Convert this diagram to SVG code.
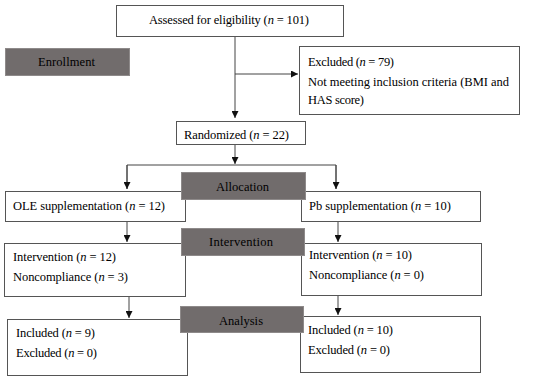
<svg xmlns="http://www.w3.org/2000/svg" width="550" height="380" viewBox="0 0 550 380">
<defs>
<marker id="arr" markerWidth="7" markerHeight="7" refX="7" refY="3.5" orient="auto" markerUnits="userSpaceOnUse">
<path d="M0,0 L7,3.5 L0,7 z" fill="#111"/>
</marker>
<style>
text{font-family:"Liberation Serif","DejaVu Serif",serif;font-size:12.5px;fill:#000}
.i{font-style:italic}
.box{fill:#fff;stroke:#555;stroke-width:1}
.lab{fill:#716c6c;stroke:#8e8a8a;stroke-width:1}
.ln{fill:none;stroke:#444;stroke-width:1}
.ar{marker-end:url(#arr)}
</style>
</defs>
<rect width="550" height="380" fill="#fff"/>
<g id="connectors">
<line class="ln ar" x1="235" y1="36" x2="235" y2="118"/>
<line class="ln ar" x1="235" y1="74" x2="298" y2="74"/>
<line class="ln ar" x1="235" y1="144" x2="235" y2="164"/>
<polyline class="ln" points="127,189 127,165 336,165 336,189"/>
<line class="ln ar" x1="127" y1="165" x2="127" y2="189"/>
<line class="ln ar" x1="336" y1="165" x2="336" y2="189"/>
<line class="ln ar" x1="127" y1="221" x2="127" y2="242"/>
<line class="ln ar" x1="338" y1="221" x2="338" y2="242"/>
<line class="ln ar" x1="129" y1="296" x2="129" y2="318"/>
<line class="ln ar" x1="338" y1="295" x2="338" y2="315"/>
</g>
<g id="assessed">
<rect class="box" x="116.5" y="5.5" width="227" height="31"/>
<text x="149" y="24" textLength="160">Assessed for eligibility (<tspan class="i">n</tspan> = 101)</text>
</g>
<g id="excluded">
<rect class="box" x="299.5" y="46.5" width="220" height="68"/>
<text x="308" y="66" textLength="86">Excluded (<tspan class="i">n</tspan> = 79)</text>
<text x="308" y="85.5" textLength="201">Not meeting inclusion criteria (BMI and</text>
<text x="308" y="104" textLength="56">HAS score)</text>
</g>
<g id="randomized">
<rect class="box" x="176.5" y="121.5" width="129" height="23"/>
<text x="184" y="139" textLength="105">Randomized (<tspan class="i">n</tspan> = 22)</text>
</g>
<g id="ole">
<rect class="box" x="5.5" y="191.5" width="180" height="30"/>
<text x="13" y="210" textLength="152">OLE supplementation (<tspan class="i">n</tspan> = 12)</text>
</g>
<g id="pb">
<rect class="box" x="301.5" y="191.5" width="179" height="30"/>
<text x="309" y="210" textLength="142">Pb supplementation (<tspan class="i">n</tspan> = 10)</text>
</g>
<g id="int-left">
<rect class="box" x="4.5" y="243.5" width="181" height="53"/>
<text x="13" y="261" textLength="103">Intervention (<tspan class="i">n</tspan> = 12)</text>
<text x="13" y="281" textLength="115">Noncompliance (<tspan class="i">n</tspan> = 3)</text>
</g>
<g id="int-right">
<rect class="box" x="301.5" y="243.5" width="180" height="52"/>
<text x="309" y="259" textLength="103">Intervention (<tspan class="i">n</tspan> = 10)</text>
<text x="309" y="279" textLength="115">Noncompliance (<tspan class="i">n</tspan> = 0)</text>
</g>
<g id="an-left">
<rect class="box" x="7.5" y="319.5" width="180" height="56"/>
<text x="16" y="337" textLength="79">Included (<tspan class="i">n</tspan> = 9)</text>
<text x="16" y="357" textLength="81">Excluded (<tspan class="i">n</tspan> = 0)</text>
</g>
<g id="an-right">
<rect class="box" x="300.5" y="316.5" width="180" height="56"/>
<text x="308" y="334" textLength="85">Included (<tspan class="i">n</tspan> = 10)</text>
<text x="308" y="354" textLength="82">Excluded (<tspan class="i">n</tspan> = 0)</text>
</g>
<g id="enrollment">
<rect class="lab" x="5.5" y="48.5" width="124" height="27"/>
<text x="38" y="66" textLength="57">Enrollment</text>
</g>
<g id="allocation">
<rect class="lab" x="181.5" y="172.5" width="124" height="27"/>
<text x="216" y="191" textLength="53">Allocation</text>
</g>
<g id="intervention">
<rect class="lab" x="181.5" y="228.5" width="123" height="27"/>
<text x="209" y="246" textLength="64">Intervention</text>
</g>
<g id="analysis">
<rect class="lab" x="180.5" y="306.5" width="123" height="26"/>
<text x="219" y="325" textLength="44">Analysis</text>
</g>
</svg>
